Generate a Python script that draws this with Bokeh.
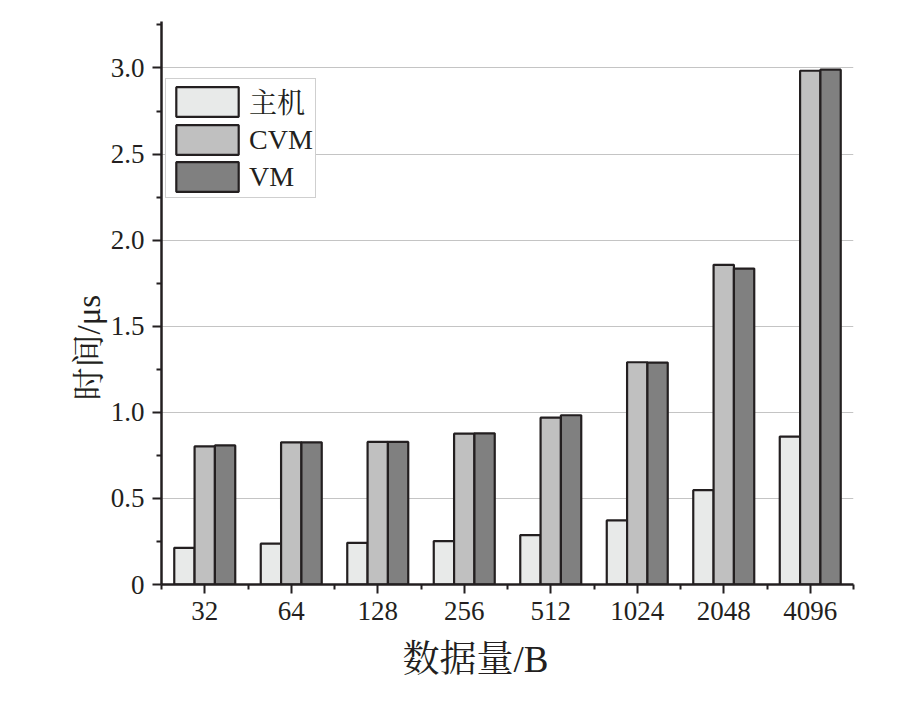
from bokeh.plotting import figure
from bokeh.models import FixedTicker, Range1d, ColumnDataSource, Legend, LegendItem, Title
from bokeh.embed import file_html
from bokeh.resources import INLINE

categories = ["32", "64", "128", "256", "512", "1024", "2048", "4096"]
host = [0.213, 0.237, 0.242, 0.252, 0.287, 0.372, 0.548, 0.859]
cvm = [0.802, 0.826, 0.828, 0.876, 0.969, 1.291, 1.857, 2.984]
vm = [0.808, 0.826, 0.828, 0.878, 0.983, 1.289, 1.835, 2.990]
series_names = ["主机", "CVM", "VM"]
y_ticks = [0, 0.5, 1.0, 1.5, 2.0, 2.5, 3.0]
y_tick_labels = ["0", "0.5", "1.0", "1.5", "2.0", "2.5", "3.0"]
x_title = "数据量/B"
y_title = "时间/μs"

SERIF = "Liberation Serif, Noto Serif CJK SC, Noto Sans CJK SC"
BW = 0.235
idx = list(range(len(categories)))

p = figure(width=900, height=696, output_backend="svg", toolbar_location=None,
           x_range=Range1d(-0.5, len(categories) - 0.5), y_range=Range1d(0, 3.27),
           min_border_left=161, min_border_right=47, min_border_top=21, min_border_bottom=112)
p.outline_line_color = None
p.background_fill_color = "white"
p.border_fill_color = "white"

colors = ["#e8eae9", "#c0c0c0", "#808080"]
renderers = []
for k, (vals, col) in enumerate(zip([host, cvm, vm], colors)):
    src = ColumnDataSource(dict(x=[i + (k - 1) * BW for i in idx], top=vals))
    r = p.vbar(x="x", top="top", width=BW, bottom=0, source=src,
               fill_color=col, line_color="#231f20", line_width=2.2)
    renderers.append(r)

# axes
p.xaxis.ticker = FixedTicker(ticks=idx, minor_ticks=[i + 0.5 for i in range(-1, len(categories))])
p.xaxis.major_label_overrides = {i: c for i, c in zip(idx, categories)}
p.yaxis.ticker = FixedTicker(ticks=y_ticks, minor_ticks=[0.25, 0.75, 1.25, 1.75, 2.25, 2.75, 3.25])
p.yaxis.major_label_overrides = {t: s for t, s in zip(y_ticks, y_tick_labels)}

for ax in (p.xaxis, p.yaxis):
    ax.axis_line_width = 2.5
    ax.axis_line_color = "#231f20"
    ax.major_tick_line_width = 2
    ax.minor_tick_line_width = 2
    ax.major_tick_line_color = "#231f20"
    ax.minor_tick_line_color = "#231f20"
    ax.major_tick_out = 9
    ax.major_tick_in = 0
    ax.minor_tick_out = 5
    ax.minor_tick_in = 0
    ax.major_label_text_font = SERIF
    ax.major_label_text_font_size = "27px"
    ax.major_label_text_color = "#231f20"
p.xaxis.major_label_standoff = 8
p.yaxis.major_label_standoff = 8

# axis titles (placed off-centre like the reference)
p.add_layout(Title(text=x_title, text_font=SERIF, text_font_size="37px", text_font_style="normal",
                   text_color="#231f20", align="left", offset=241, standoff=29), "below")
p.add_layout(Title(text=y_title, text_font=SERIF, text_font_size="33px", text_font_style="normal",
                   text_color="#231f20", align="left", offset=184, standoff=2), "left")

p.xgrid.visible = False
p.ygrid.ticker = FixedTicker(ticks=y_ticks[1:])
p.ygrid.grid_line_color = "#c4c4c4"
p.ygrid.grid_line_width = 1.2

legend = Legend(items=[LegendItem(label=n, renderers=[r]) for n, r in zip(series_names, renderers)],
                location=(4, 386))
legend.label_text_font = SERIF
legend.label_text_font_size = "28px"
legend.label_text_color = "#231f20"
legend.glyph_width = 78
legend.glyph_height = 37
legend.label_height = 30
legend.spacing = 0
legend.padding = 2
legend.margin = 0
legend.label_standoff = 3
legend.border_line_color = "#a0a0a0"
legend.border_line_width = 1
legend.background_fill_alpha = 1
p.add_layout(legend)

open("out.html", "w").write(file_html(p, INLINE))
